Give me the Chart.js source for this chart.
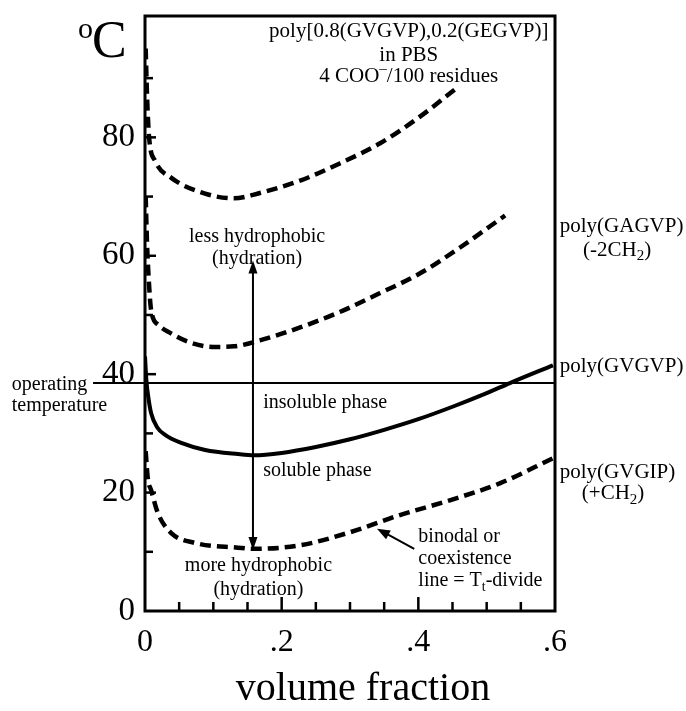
<!DOCTYPE html>
<html>
<head>
    <meta charset="UTF-8">
    <title>Coexistence lines vs volume fraction</title>
    <style>
        body { margin: 0; padding: 0; background: #fff; }
        #chart-container { width: 686px; height: 711px; }
    </style>
</head>
<body>
    <div id="chart-container">
        <canvas id="phaseChart"></canvas>
    </div>

    <script src="https://cdn.jsdelivr.net/npm/chart.js"></script>

    <script>
        // volume fraction (x) and transition temperature in degC (y) along each binodal
        const gegvpX = [0.001, 0.003, 0.006, 0.015, 0.038, 0.088, 0.13, 0.168, 0.227, 0.285, 0.344, 0.40, 0.457];
        const gegvpY = [95, 87, 80, 76, 73.2, 70.5, 69.7, 70.6, 72.7, 75.6, 79.0, 83.3, 88.4];

        const gagvpX = [0.001, 0.003, 0.006, 0.009, 0.02, 0.038, 0.065, 0.1, 0.13, 0.168, 0.227, 0.285, 0.344, 0.402, 0.461, 0.527];
        const gagvpY = [70, 62, 55, 50.8, 48.3, 46.9, 45.4, 44.6, 44.7, 45.7, 47.9, 50.5, 53.7, 57, 61.4, 66.8];

        const gvgvpX = [0, 0.002, 0.005, 0.009, 0.018, 0.03, 0.053, 0.088, 0.136, 0.16, 0.2, 0.25, 0.3, 0.35, 0.4, 0.45, 0.5, 0.534, 0.597];
        const gvgvpY = [43, 39, 36, 33.4, 31, 29.7, 28.4, 27.2, 26.5, 26.3, 26.7, 27.7, 29.0, 30.6, 32.4, 34.5, 36.8, 38.5, 41.5];

        const gvgipX = [0.001, 0.004, 0.009, 0.019, 0.038, 0.073, 0.136, 0.158, 0.227, 0.3, 0.373, 0.446, 0.52, 0.597];
        const gvgipY = [27, 22.5, 20.4, 16.5, 13.2, 11.5, 10.7, 10.5, 11.1, 13.3, 16.2, 18.7, 21.6, 25.8];

        const operatingTemp = 38.5;
        const xTickLabels = { 0: '0', 20: '.2', 40: '.4', 60: '.6' };
        const yTickLabels = [0, 20, 40, 60, 80];

        const SERIF = "'Liberation Serif', 'Times New Roman', serif";

        // text placed in data units; runs allow sub/superscripts
        const notes = [
            { x: 0.386, y: 98.0, align: 'center', size: 21, runs: [{ t: 'poly[0.8(GVGVP),0.2(GEGVP)]' }] },
            { x: 0.386, y: 93.9, align: 'center', size: 21, runs: [{ t: 'in PBS' }] },
            { x: 0.386, y: 90.5, align: 'center', size: 21, runs: [{ t: '4 COO' }, { t: '\u2013', sup: true }, { t: '/100 residues' }] },
            { x: 0.164, y: 63.3, align: 'center', size: 20, runs: [{ t: 'less hydrophobic' }] },
            { x: 0.164, y: 59.6, align: 'center', size: 20, runs: [{ t: '(hydration)' }] },
            { x: 0.173, y: 35.3, align: 'left', size: 20, runs: [{ t: 'insoluble phase' }] },
            { x: 0.173, y: 23.8, align: 'left', size: 20, runs: [{ t: 'soluble phase' }] },
            { x: 0.166, y: 7.8, align: 'center', size: 20, runs: [{ t: 'more hydrophobic' }] },
            { x: 0.166, y: 3.7, align: 'center', size: 20, runs: [{ t: '(hydration)' }] },
            { x: 0.4, y: 12.7, align: 'left', size: 20, runs: [{ t: 'binodal or' }] },
            { x: 0.4, y: 9.0, align: 'left', size: 20, runs: [{ t: 'coexistence' }] },
            { x: 0.4, y: 5.2, align: 'left', size: 20, runs: [{ t: 'line = T' }, { t: 't', sub: true }, { t: '-divide' }] },
            { x: -0.195, y: 38.3, align: 'left', size: 20, runs: [{ t: 'operating' }] },
            { x: -0.195, y: 34.8, align: 'left', size: 20, runs: [{ t: 'temperature' }] },
            { x: 0.607, y: 65.0, align: 'left', size: 21, runs: [{ t: 'poly(GAGVP)' }] },
            { x: 0.691, y: 61.1, align: 'center', size: 21, runs: [{ t: '(-2CH' }, { t: '2', sub: true }, { t: ')' }] },
            { x: 0.607, y: 41.4, align: 'left', size: 21, runs: [{ t: 'poly(GVGVP)' }] },
            { x: 0.607, y: 23.5, align: 'left', size: 21, runs: [{ t: 'poly(GVGIP)' }] },
            { x: 0.685, y: 19.9, align: 'center', size: 21, runs: [{ t: '(+CH' }, { t: '2', sub: true }, { t: ')' }] }
        ];

        function drawRuns(ctx, runs, x, y, align, size) {
            const sizes = runs.map(r => (r.sub || r.sup) ? Math.round(size * 0.7) : size);
            let total = 0;
            runs.forEach((r, i) => {
                ctx.font = sizes[i] + 'px ' + SERIF;
                total += ctx.measureText(r.t).width;
            });
            let cx = align === 'center' ? x - total / 2 : x;
            ctx.textAlign = 'left';
            ctx.textBaseline = 'alphabetic';
            const base = y + size * 0.3;
            runs.forEach((r, i) => {
                ctx.font = sizes[i] + 'px ' + SERIF;
                let dy = 0;
                if (r.sub) dy = size * 0.22;
                if (r.sup) dy = -size * 0.42;
                ctx.fillText(r.t, cx, base + dy);
                cx += ctx.measureText(r.t).width;
            });
        }

        function arrowHead(ctx, x0, y0, x1, y1, len, half) {
            const a = Math.atan2(y1 - y0, x1 - x0);
            ctx.beginPath();
            ctx.moveTo(x1, y1);
            ctx.lineTo(x1 - len * Math.cos(a) + half * Math.sin(a), y1 - len * Math.sin(a) - half * Math.cos(a));
            ctx.lineTo(x1 - len * Math.cos(a) - half * Math.sin(a), y1 - len * Math.sin(a) + half * Math.cos(a));
            ctx.closePath();
            ctx.fill();
        }

        const decorations = {
            id: 'decorations',
            afterDatasetsDraw(chart) {
                const { ctx, chartArea: a, scales: { x, y } } = chart;
                ctx.save();
                ctx.strokeStyle = '#000';
                ctx.fillStyle = '#000';

                // operating temperature line, running out past the y axis
                const yo = y.getPixelForValue(operatingTemp);
                ctx.lineWidth = 2;
                ctx.beginPath();
                ctx.moveTo(x.getPixelForValue(-0.076), yo);
                ctx.lineTo(a.right, yo);
                ctx.stroke();

                // frame
                ctx.lineWidth = 3;
                ctx.strokeRect(a.left, a.top, a.right - a.left, a.bottom - a.top);

                // inward ticks
                ctx.lineWidth = 2.5;
                x.ticks.forEach(t => {
                    const k = Math.round(t.value * 100);
                    if (k <= 0 || k >= 60 || k % 5 !== 0) return;
                    const px = x.getPixelForValue(t.value);
                    const len = k % 20 === 0 ? 14 : 9;
                    ctx.beginPath();
                    ctx.moveTo(px, a.bottom);
                    ctx.lineTo(px, a.bottom - len);
                    ctx.stroke();
                });
                y.ticks.forEach(t => {
                    const v = Math.round(t.value);
                    if (v <= 0 || v >= 100 || v % 10 !== 0 || Math.abs(t.value - v) > 1e-6) return;
                    const py = y.getPixelForValue(v);
                    const len = v % 20 === 0 ? 11 : 8;
                    ctx.beginPath();
                    ctx.moveTo(a.left, py);
                    ctx.lineTo(a.left + len, py);
                    ctx.stroke();
                });

                // double arrow between the two hydrophobicity extremes
                const ax = x.getPixelForValue(0.158);
                const aTop = y.getPixelForValue(59.2);
                const aBot = y.getPixelForValue(10.3);
                ctx.lineWidth = 2;
                ctx.beginPath();
                ctx.moveTo(ax, aTop + 8);
                ctx.lineTo(ax, aBot - 8);
                ctx.stroke();
                arrowHead(ctx, ax, aBot, ax, aTop, 13, 4.5);
                arrowHead(ctx, ax, aTop, ax, aBot, 13, 4.5);

                // pointer to the binodal line
                const tx = x.getPixelForValue(0.394), ty = y.getPixelForValue(10.5);
                const hx = x.getPixelForValue(0.3395), hy = y.getPixelForValue(13.9);
                ctx.beginPath();
                ctx.moveTo(tx, ty);
                ctx.lineTo(hx + (tx - hx) * 0.25, hy + (ty - hy) * 0.25);
                ctx.stroke();
                arrowHead(ctx, tx, ty, hx, hy, 13, 5);

                // annotations
                notes.forEach(n => {
                    drawRuns(ctx, n.runs, x.getPixelForValue(n.x), y.getPixelForValue(n.y), n.align, n.size);
                });

                // y unit
                ctx.textAlign = 'left';
                ctx.textBaseline = 'alphabetic';
                ctx.font = '30px ' + SERIF;
                ctx.fillText('o', 78, 38);
                ctx.font = '52px ' + SERIF;
                ctx.fillText('C', 92, 57);

                // x axis title
                ctx.textAlign = 'center';
                ctx.font = '40px ' + SERIF;
                ctx.fillText('volume fraction', 363, 700);

                ctx.restore();
            }
        };

        const toPoints = (xs, ys) => xs.map((v, i) => ({ x: v, y: ys[i] }));

        const lineStyle = {
            borderColor: '#000',
            borderWidth: 4.5,
            pointRadius: 0,
            fill: false,
            cubicInterpolationMode: 'monotone'
        };

        window.onload = function () {
            const ctx = document.getElementById('phaseChart').getContext('2d');
            new Chart(ctx, {
                type: 'line',
                data: {
                    datasets: [
                        Object.assign({ label: 'poly[0.8(GVGVP),0.2(GEGVP)]', data: toPoints(gegvpX, gegvpY), borderDash: [11, 6] }, lineStyle),
                        Object.assign({ label: 'poly(GAGVP)', data: toPoints(gagvpX, gagvpY), borderDash: [11, 6] }, lineStyle),
                        Object.assign({ label: 'poly(GVGVP)', data: toPoints(gvgvpX, gvgvpY) }, lineStyle, { borderWidth: 4 }),
                        Object.assign({ label: 'poly(GVGIP)', data: toPoints(gvgipX, gvgipY), borderDash: [11, 6] }, lineStyle)
                    ]
                },
                options: {
                    responsive: true,
                    maintainAspectRatio: false,
                    animation: false,
                    layout: { padding: { left: 0, right: 131, top: 16, bottom: 0 } },
                    plugins: {
                        legend: { display: false },
                        tooltip: { enabled: false }
                    },
                    scales: {
                        x: {
                            type: 'linear',
                            min: 0,
                            max: 0.6,
                            grid: { display: false, drawTicks: false },
                            border: { display: false },
                            ticks: {
                                stepSize: 0.05,
                                autoSkip: false,
                                maxRotation: 0,
                                padding: 12,
                                color: '#000',
                                font: { family: SERIF, size: 32 },
                                callback: v => xTickLabels[Math.round(v * 100)] ?? ''
                            },
                            afterFit: s => { s.height = 100; s.paddingLeft = 0; s.paddingRight = 0; }
                        },
                        y: {
                            type: 'linear',
                            min: 0,
                            max: 100.5,
                            grid: { display: false, drawTicks: false },
                            border: { display: false },
                            ticks: {
                                stepSize: 10,
                                autoSkip: false,
                                padding: 10,
                                color: '#000',
                                font: { family: SERIF, size: 33 },
                                callback: v => yTickLabels.includes(v) ? String(v) : ''
                            },
                            afterFit: s => { s.width = 145; s.paddingTop = 0; s.paddingBottom = 0; }
                        }
                    }
                },
                plugins: [decorations]
            });
        };
    </script>
</body>
</html>
